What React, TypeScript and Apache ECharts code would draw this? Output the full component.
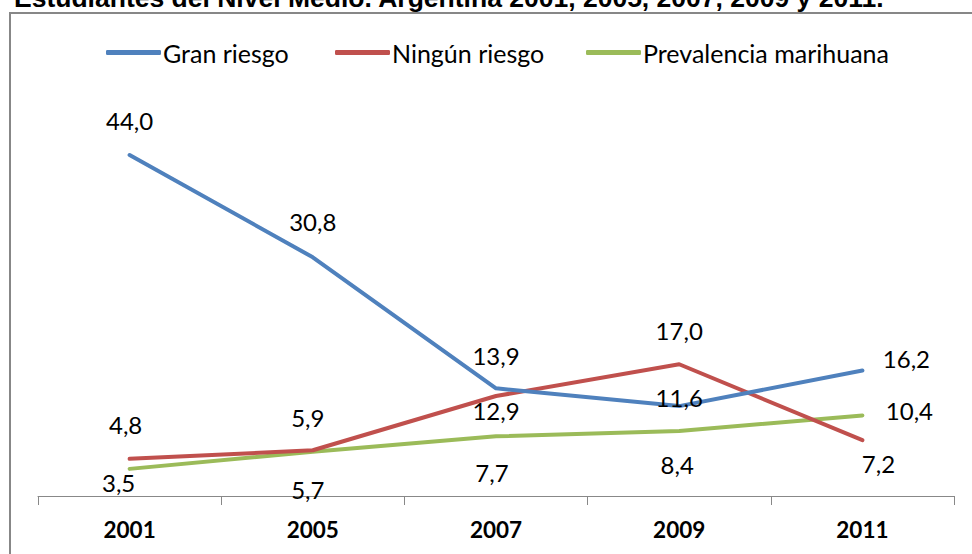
import React, { useEffect, useRef } from "react";
import * as echarts from "echarts";

const TITLE = "Estudiantes del Nivel Medio. Argentina 2001, 2005, 2007, 2009 y 2011.";
const years = ["2001", "2005", "2007", "2009", "2011"];
const seriesNames = ["Gran riesgo", "Ningún riesgo", "Prevalencia marihuana"];
const granRiesgo = [44.0, 30.8, 13.9, 11.6, 16.2];
const ningunRiesgo = [4.8, 5.9, 12.9, 17.0, 7.2];
const prevalencia = [3.5, 5.7, 7.7, 8.4, 10.4];

const colors = ["#4F81BD", "#C0504D", "#9BBB59"];

// label offsets (layout only)
const labelOffsets: number[][][] = [
  [[0, -35], [0, -36], [0, -33], [0, -9], [44, -12]],
  [[-4, -34], [-5, -33], [0, 14], [0, -34], [16, 23]],
  [[-11, 14], [-5, 38], [-4, 36], [-2, 34], [47, -5]],
];
const legendLefts = [101, 330, 581];

const FONT = "Lato, 'Noto Sans', sans-serif";

export default function App() {
  const ref = useRef<HTMLDivElement>(null);
  useEffect(() => {
    if (!ref.current) return;
    const chart = echarts.init(ref.current, undefined, { renderer: "svg" });
    const all = [granRiesgo, ningunRiesgo, prevalencia];
    const series = all.map((vals, si) => ({
      name: seriesNames[si],
      type: "line",
      data: vals.map((v, i) => ({
        value: v,
        label: { offset: labelOffsets[si][i] },
      })),
      symbol: "circle",
      symbolSize: 0.1,
      showSymbol: true,
      itemStyle: { color: colors[si] },
      lineStyle: { color: colors[si], width: 4, cap: "round", join: "round" },
      label: {
        show: true,
        position: "inside",
        formatter: (p: any) => Number(p.value).toFixed(1).replace(".", ","),
        color: "#000",
        fontFamily: FONT,
        fontSize: 24,
      },
      z: 3 - si,
    }));
    chart.setOption({
      animation: false,
      backgroundColor: "#fff",
      color: colors,
      graphic: [
        {
          type: "rect",
          shape: { x: 10, y: 13, width: 966, height: 560 },
          style: { fill: "none", stroke: "#878787", lineWidth: 2 },
          silent: true,
        },
        {
          type: "text",
          x: 14,
          y: -2,
          style: {
            text: TITLE,
            font: "bold 26.5px 'Liberation Sans', Arial, sans-serif",
            fill: "#000",
            verticalAlign: "middle",
            align: "left",
          },
        },
      ],
      legend: seriesNames.map((n, i) => ({
        top: 35,
        left: legendLefts[i],
        itemWidth: 55,
        itemHeight: 5,
        icon: "roundRect",
        textStyle: { fontFamily: FONT, fontSize: 25, color: "#000", padding: [0, 0, 0, -3] },
        data: [n],
      })),
      grid: { left: 38, right: 18, top: 108.5, bottom: 58 },
      xAxis: {
        type: "category",
        data: years,
        boundaryGap: true,
        axisLine: { lineStyle: { color: "#888", width: 1 } },
        axisTick: { show: true, length: 9, lineStyle: { color: "#888" } },
        axisLabel: {
          color: "#000",
          fontFamily: FONT,
          fontWeight: "bold",
          fontSize: 22.5,
          margin: 22,
        },
      },
      yAxis: {
        type: "value",
        min: 0,
        max: 50,
        show: false,
        splitLine: { show: false },
      },
      series,
    });
    return () => chart.dispose();
  }, []);
  return (
    <div
      ref={ref}
      style={{ position: "fixed", left: 0, top: 0, width: 972, height: 554 }}
    />
  );
}
